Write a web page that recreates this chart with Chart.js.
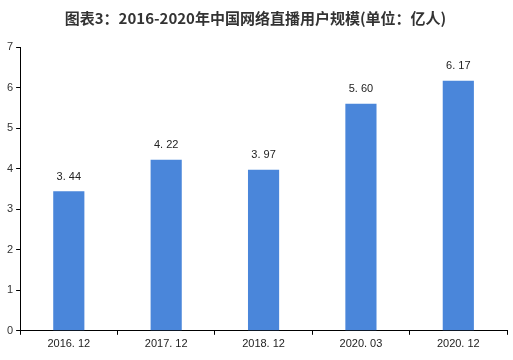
<!DOCTYPE html>
<html>
<head>
<meta charset="utf-8">
<script src="https://cdn.jsdelivr.net/npm/chart.js@4"></script>
<style>
  html, body { margin: 0; padding: 0; background: #fff; }
  #wrap { width: 513px; height: 360px; position: relative; }
</style>
</head>
<body>
<div id="wrap"><canvas id="chart"></canvas></div>
<script>
// Chart data
const categories = ['2016. 12', '2017. 12', '2018. 12', '2020. 03', '2020. 12'];
const users = [3.44, 4.22, 3.97, 5.60, 6.17];
const yTicks = [0, 1, 2, 3, 4, 5, 6, 7];

const titleText = '图表3：2016-2020年中国网络直播用户规模(单位：亿人)';

// Value labels above each bar
const valueLabels = {
    id: 'valueLabels',
    afterDatasetsDraw(chart) {
        const ctx = chart.ctx;
        const meta = chart.getDatasetMeta(0);
        ctx.save();
        ctx.font = '11px "Liberation Sans", Arial, sans-serif';
        ctx.fillStyle = '#222';
        ctx.textAlign = 'center';
        ctx.textBaseline = 'bottom';
        meta.data.forEach((bar, i) => {
            const txt = users[i].toFixed(2).replace('.', '. ');
            ctx.fillText(txt, bar.x, bar.y - 9);
        });
        ctx.restore();
    }
};

Chart.defaults.font.family = '"Liberation Sans", Arial, sans-serif';
Chart.defaults.color = '#333';

new Chart(document.getElementById('chart'), {
    type: 'bar',
    data: {
        labels: categories,
        datasets: [{
            data: users,
            backgroundColor: '#4a86da',
            categoryPercentage: 1.0,
            barPercentage: 0.32
        }]
    },
    options: {
        responsive: true,
        maintainAspectRatio: false,
        animation: false,
        layout: { padding: { left: 4, right: 6, top: 0, bottom: 6 } },
        plugins: {
            legend: { display: false },
            tooltip: { enabled: false },
            title: {
                display: true,
                text: titleText,
                color: '#333',
                font: { size: 15, weight: 'bold', family: '"Noto Sans CJK SC", sans-serif' },
                padding: { top: 9, bottom: 20 }
            }
        },
        scales: {
            y: {
                min: 0,
                max: 7,
                afterBuildTicks(axis) {
                    axis.ticks = yTicks.map(v => ({ value: v }));
                },
                grid: { drawOnChartArea: false, drawTicks: true, tickLength: 4, color: '#000' },
                border: { color: '#000' },
                ticks: { font: { size: 11 }, color: '#333', padding: 3 }
            },
            x: {
                grid: { drawOnChartArea: false, drawTicks: true, tickLength: 4, color: '#000', offset: true },
                border: { color: '#000' },
                ticks: { font: { size: 11 }, color: '#222', padding: 3 }
            }
        }
    },
    plugins: [valueLabels]
});
</script>
</body>
</html>
